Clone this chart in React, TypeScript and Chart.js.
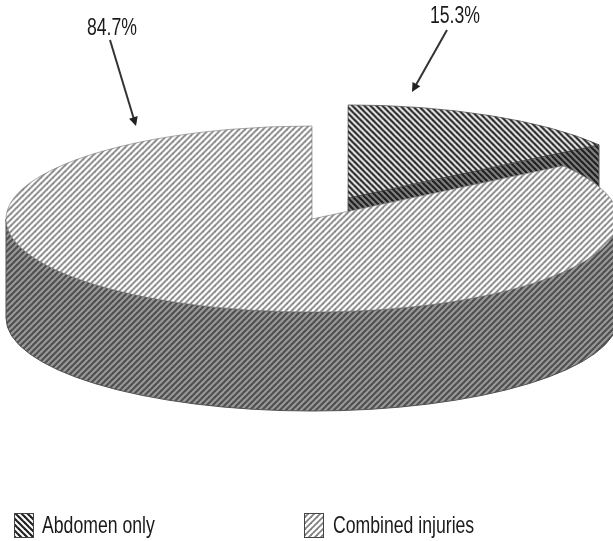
import React, { useEffect, useRef } from "react";
import { Chart, registerables } from "chart.js";

Chart.register(...registerables);

const categories = ["Abdomen only", "Combined injuries"];
const shares = [15.3, 84.7];
const shareLabels = ["15.3%", "84.7%"];

// Appearance of the 3D pie
const explode = [78, 0];
const squash = 0.304;
const depth = 99;
const pieRadius = 306;

const FONT = '24px "Liberation Sans", Arial, sans-serif';
const TEXT_X_SCALE = 0.735;

function makeHatch(size: number, bg: string, fg: string, lw: number, dir: 1 | -1) {
  const c = document.createElement("canvas");
  c.width = size;
  c.height = size;
  const g = c.getContext("2d")!;
  g.fillStyle = bg;
  g.fillRect(0, 0, size, size);
  g.strokeStyle = fg;
  g.lineWidth = lw;
  for (let o = -size; o <= size; o += size) {
    g.beginPath();
    if (dir === 1) {
      g.moveTo(o - 1, size + 1);
      g.lineTo(o + size + 1, -1);
    } else {
      g.moveTo(o - 1, -1);
      g.lineTo(o + size + 1, size + 1);
    }
    g.stroke();
  }
  return g.createPattern(c, "repeat") as CanvasPattern;
}

function drawText(ctx: CanvasRenderingContext2D, t: string, x: number, y: number) {
  ctx.save();
  ctx.translate(x, y);
  ctx.scale(TEXT_X_SCALE, 1);
  ctx.font = FONT;
  ctx.fillStyle = "#1a1a1a";
  ctx.textAlign = "left";
  ctx.textBaseline = "alphabetic";
  ctx.fillText(t, 0, 0);
  ctx.restore();
}

function drawArrow(ctx: CanvasRenderingContext2D, x0: number, y0: number, x1: number, y1: number) {
  const a = Math.atan2(y1 - y0, x1 - x0);
  ctx.save();
  ctx.strokeStyle = "#333";
  ctx.fillStyle = "#222";
  ctx.lineWidth = 2;
  ctx.beginPath();
  ctx.moveTo(x0, y0);
  ctx.lineTo(x1 - Math.cos(a) * 6, y1 - Math.sin(a) * 6);
  ctx.stroke();
  ctx.beginPath();
  ctx.moveTo(x1, y1);
  ctx.lineTo(x1 - Math.cos(a) * 9 - Math.sin(a) * 4.5, y1 - Math.sin(a) * 9 + Math.cos(a) * 4.5);
  ctx.lineTo(x1 - Math.cos(a) * 9 + Math.sin(a) * 4.5, y1 - Math.sin(a) * 9 - Math.cos(a) * 4.5);
  ctx.closePath();
  ctx.fill();
  ctx.restore();
}

export default function App() {
  const ref = useRef<HTMLCanvasElement>(null);

  useEffect(() => {
    const ctx0 = ref.current!.getContext("2d")!;
    const unsquash = new DOMMatrix().scale(1, 1 / squash);

    const topSmall = makeHatch(6, "#f4f4f4", "#222222", 2.2, -1);
    const topBig = makeHatch(6, "#ffffff", "#808080", 1.8, 1);
    topSmall.setTransform(unsquash);
    topBig.setTransform(unsquash);
    const wallSmall = makeHatch(6, "#808080", "#222222", 2.2, -1);
    const wallBig = makeHatch(6, "#9a9a9a", "#505050", 2.2, 1);
    const legendFills = [makeHatch(6, "#ffffff", "#222222", 2.2, -1), makeHatch(6, "#ffffff", "#808080", 1.8, 1)];
    const wallFills = [wallSmall, wallBig];

    const pie3d = {
      id: "pie3d",
      beforeDatasetDraw(chart: any, args: any) {
        const ctx: CanvasRenderingContext2D = chart.ctx;
        args.meta.data.forEach((arc: any, i: number) => {
          const { x, y, startAngle, endAngle, outerRadius: R } = arc;
          const mid = (startAngle + endAngle) / 2;
          const X = x + Math.cos(mid) * explode[i];
          const Y = y + Math.sin(mid) * explode[i] * squash;
          const ry = R * squash;

          ctx.save();
          ctx.fillStyle = wallFills[i];
          ctx.strokeStyle = "#505050";
          ctx.lineWidth = 1;
          // outer wall: the part of the rim that faces the viewer
          const ranges: [number, number][] = [];
          for (const k of [-2, 0, 2]) {
            const a0 = Math.max(startAngle, k * Math.PI);
            const a1 = Math.min(endAngle, k * Math.PI + Math.PI);
            if (a1 > a0) ranges.push([a0, a1]);
          }
          for (const [a0, a1] of ranges) {
            ctx.beginPath();
            ctx.ellipse(X, Y, R, ry, 0, a0, a1, false);
            ctx.lineTo(X + R * Math.cos(a1), Y + ry * Math.sin(a1) + depth);
            ctx.ellipse(X, Y + depth, R, ry, 0, a1, a0, true);
            ctx.closePath();
            ctx.fill();
            ctx.stroke();
          }
          // radial cut walls
          const radial: [number, number][] = [
            [startAngle, -Math.cos(startAngle)],
            [endAngle, Math.cos(endAngle)],
          ];
          for (const [a, facing] of radial) {
            if (facing > 1e-6) {
              ctx.beginPath();
              ctx.moveTo(X, Y);
              ctx.lineTo(X + R * Math.cos(a), Y + ry * Math.sin(a));
              ctx.lineTo(X + R * Math.cos(a), Y + ry * Math.sin(a) + depth);
              ctx.lineTo(X, Y + depth);
              ctx.closePath();
              ctx.fill();
              ctx.stroke();
            }
          }
          ctx.restore();

          // top face, drawn by the library's own arc element
          ctx.save();
          ctx.translate(X, Y);
          ctx.scale(1, squash);
          ctx.translate(-x, -y);
          arc.draw(ctx);
          ctx.restore();
        });
        return false;
      },
      afterDraw(chart: any) {
        const ctx: CanvasRenderingContext2D = chart.ctx;
        // percentage call-outs
        drawText(ctx, shareLabels[1], 87, 35);
        drawArrow(ctx, 110, 40, 136, 126);
        drawText(ctx, shareLabels[0], 430, 23);
        drawArrow(ctx, 447, 30, 412, 92);
        // legend
        const items = [
          { box: 14, text: 42 },
          { box: 304, text: 333 },
        ];
        items.forEach((it, i) => {
          ctx.save();
          ctx.fillStyle = legendFills[i];
          ctx.strokeStyle = "#444";
          ctx.lineWidth = 1;
          ctx.fillRect(it.box, 513, 19, 24);
          ctx.strokeRect(it.box + 0.5, 513.5, 19, 24);
          ctx.restore();
          drawText(ctx, chart.data.labels[i], it.text, 533);
        });
      },
    };

    const chart = new Chart(ctx0, {
      type: "pie",
      data: {
        labels: categories,
        datasets: [
          {
            data: shares,
            backgroundColor: [topSmall, topBig],
            borderColor: ["#333333", "#808080"],
            borderWidth: 1,
            radius: pieRadius,
          } as any,
        ],
      },
      options: {
        responsive: false,
        animation: false,
        rotation: 0,
        layout: { padding: { left: 11, right: 0, top: 0, bottom: 103 } },
        plugins: { legend: { display: false }, tooltip: { enabled: false } },
      },
      plugins: [pie3d as any],
    });
    return () => chart.destroy();
  }, []);

  return (
    <div style={{ position: "fixed", left: 0, top: 0, width: 613, height: 541, background: "#fff" }}>
      <canvas ref={ref} width={613} height={541} style={{ display: "block" }} />
    </div>
  );
}
